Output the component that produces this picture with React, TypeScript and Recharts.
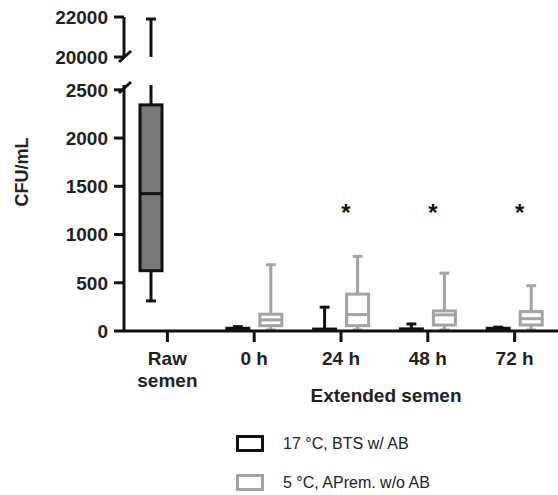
import { ComposedChart, Bar, Scatter, XAxis, YAxis, Legend, Label } from "recharts";

const FONT = "'Liberation Sans', Arial, Helvetica, sans-serif";

// x categories ("\n" = line break in the tick label)
const categories = ["Raw\nsemen", "0 h", "24 h", "48 h", "72 h"];

// 17 °C, BTS w/ AB
const btsMin = [312, 0, 0, 0, 0];
const btsQ1 = [625, 2, 2, 2, 2];
const btsMedian = [1424, 8, 6, 8, 8];
const btsQ3 = [2344, 28, 20, 22, 28];
const btsMax = [21900, 45, 247, 73, 40];

// 5 °C, APrem. w/o AB (no raw semen box)
const apremMin = [null, 10, 10, 10, 10];
const apremQ1 = [null, 55, 55, 62, 62];
const apremMedian = [null, 115, 170, 167, 128];
const apremQ3 = [null, 174, 382, 208, 201];
const apremMax = [null, 687, 774, 600, 469];

// significance marks
const stars = [null, null, 1290, 1290, 1290];

const lowerTicks = [0, 500, 1000, 1500, 2000, 2500];
const upperTicks = [20000, 22000];

const series = [
  { key: "bts", name: "17 °C, BTS w/ AB", stroke: "#111111", fill: "#787878" },
  { key: "aprem", name: "5 °C, APrem. w/o AB", stroke: "#a3a3a3", fill: "#ffffff" },
];

const stats = (mn: any[], q1: any[], md: any[], q3: any[], mx: any[], i: number) =>
  mn[i] == null
    ? null
    : { min: mn[i], q1: q1[i], median: md[i], q3: q3[i], max: mx[i] };

const data = categories.map((cat, i) => {
  const bts = stats(btsMin, btsQ1, btsMedian, btsQ3, btsMax, i);
  const aprem = stats(apremMin, apremQ1, apremMedian, apremQ3, apremMax, i);
  return {
    cat,
    bts: bts ? [bts.min, bts.max] : null,
    btsStats: bts,
    aprem: aprem ? [aprem.min, aprem.max] : null,
    apremStats: aprem,
    star: stars[i],
  };
});

// box + whiskers, positioned from the range bar (min..max) the library computed
const BoxShape = (props: any) => {
  const { x, y, width, height, payload, statsKey, stroke, fill } = props;
  const s = payload ? payload[statsKey] : null;
  if (!s || !Number.isFinite(y) || !Number.isFinite(height)) return <g />;
  const top = Math.min(y, y + height);
  const bottom = Math.max(y, y + height);
  const span = s.max - s.min;
  const py = (v: number) =>
    span === 0 ? bottom : bottom - ((bottom - top) * (v - s.min)) / span;
  const cx = x + width / 2;
  const cap = width * 0.45;
  const sw = 3;
  return (
    <g>
      <line x1={cx} x2={cx} y1={py(s.max)} y2={py(s.q3)} stroke={stroke} strokeWidth={sw} />
      <line x1={cx} x2={cx} y1={py(s.q1)} y2={py(s.min)} stroke={stroke} strokeWidth={sw} />
      <line x1={cx - cap / 2} x2={cx + cap / 2} y1={py(s.max)} y2={py(s.max)} stroke={stroke} strokeWidth={sw} />
      <line x1={cx - cap / 2} x2={cx + cap / 2} y1={py(s.min)} y2={py(s.min)} stroke={stroke} strokeWidth={sw} />
      <rect
        x={x}
        y={py(s.q3)}
        width={width}
        height={Math.max(0, py(s.q1) - py(s.q3))}
        fill={fill}
        stroke={stroke}
        strokeWidth={sw}
      />
      <line x1={x} x2={x + width} y1={py(s.median)} y2={py(s.median)} stroke={stroke} strokeWidth={sw} />
    </g>
  );
};

const StarShape = (props: any) => {
  const { cx, cy, payload } = props;
  if (!payload || payload.star == null) return <g />;
  return (
    <text x={cx + 5} y={cy + 14} textAnchor="middle" fontSize={24} fontWeight="bold" fill="#111">
      *
    </text>
  );
};

const XTick = (props: any) => {
  const { x, y, payload } = props;
  const lines = String(payload.value).split("\n");
  return (
    <text x={x} y={y} textAnchor="middle" fontSize={19} fontWeight="bold" fill="#222">
      {lines.map((l, i) => (
        <tspan key={i} x={x} dy={i === 0 ? 21 : 22}>
          {l}
        </tspan>
      ))}
    </text>
  );
};

const LegendContent = () => (
  <div style={{ fontFamily: FONT }}>
    {series.map((s) => (
      <div key={s.key} style={{ display: "flex", alignItems: "center", height: 39 }}>
        <svg width={28} height={17}>
          <rect x={1.5} y={1.5} width={25} height={14} fill="#fff" stroke={s.stroke} strokeWidth={3} />
        </svg>
        <span style={{ marginLeft: 19, fontSize: 16, color: "#222" }}>{s.name}</span>
      </div>
    ))}
  </div>
);

const axisStyle = { stroke: "#111", strokeWidth: 3 };
const yTick = { fontSize: 19, fontWeight: "bold", fill: "#222" } as any;

const boxBars = () =>
  series.map((s) => (
    <Bar
      key={s.key}
      dataKey={s.key}
      name={s.name}
      fill={s.fill}
      stroke={s.stroke}
      isAnimationActive={false}
      shape={(p: any) => (
        <BoxShape {...p} statsKey={s.key + "Stats"} stroke={s.stroke} fill={s.fill} />
      )}
    />
  ));

export default function App() {
  return (
    <div
      style={{
        position: "absolute",
        left: 0,
        top: 0,
        width: 558,
        height: 495,
        background: "#fff",
        fontFamily: FONT,
      }}
    >
      {/* lower segment: 0 - 2500 */}
      <div style={{ position: "absolute", left: 0, top: 0 }}>
        <ComposedChart
          width={558}
          height={495}
          data={data}
          margin={{ top: 85, right: 0, bottom: 91, left: 0 }}
          barSize={22}
          barGap={11}
        >
          <XAxis
            dataKey="cat"
            height={73}
            interval={0}
            tickSize={11}
            tickLine={axisStyle}
            axisLine={axisStyle}
            tick={<XTick />}
          >
            <Label
              value="Extended semen"
              position="insideBottom"
              offset={2}
              dx={45}
              style={{ fontSize: 19, fontWeight: "bold", fill: "#222" }}
            />
          </XAxis>
          <YAxis
            width={124}
            domain={[0, 2550]}
            ticks={lowerTicks}
            allowDataOverflow
            interval={0}
            tickSize={10}
            tickMargin={6}
            tickLine={axisStyle}
            axisLine={axisStyle}
            tick={yTick}
          >
            <Label
              value="CFU/mL"
              angle={-90}
              position="center"
              dx={-40}
              dy={-36}
              style={{ fontSize: 18, fontWeight: "bold", fill: "#222" }}
            />
          </YAxis>
          {boxBars()}
          <Scatter dataKey="star" isAnimationActive={false} shape={<StarShape />} />
          <Legend
            layout="vertical"
            align="center"
            verticalAlign="middle"
            wrapperStyle={{ left: 236, top: 424, width: 320 }}
            content={<LegendContent />}
          />
        </ComposedChart>
      </div>

      {/* upper segment: 20000 - 22000 */}
      <div style={{ position: "absolute", left: 0, top: 0 }}>
        <ComposedChart
          width={558}
          height={76}
          data={data}
          margin={{ top: 17, right: 0, bottom: 19, left: 0 }}
          barSize={22}
          barGap={11}
        >
          <XAxis dataKey="cat" hide />
          <YAxis
            width={124}
            domain={[20000, 22000]}
            ticks={upperTicks}
            allowDataOverflow
            interval={0}
            tickSize={10}
            tickMargin={6}
            tickLine={axisStyle}
            axisLine={axisStyle}
            tick={yTick}
          />
          {boxBars()}
        </ComposedChart>
      </div>

      {/* axis break marks */}
      <svg
        width={558}
        height={495}
        style={{ position: "absolute", left: 0, top: 0, pointerEvents: "none" }}
      >
        <line x1={119} y1={62} x2={131} y2={51} stroke="#111" strokeWidth={3} />
        <line x1={119} y1={93} x2={131} y2={82} stroke="#111" strokeWidth={3} />
      </svg>
    </div>
  );
}
